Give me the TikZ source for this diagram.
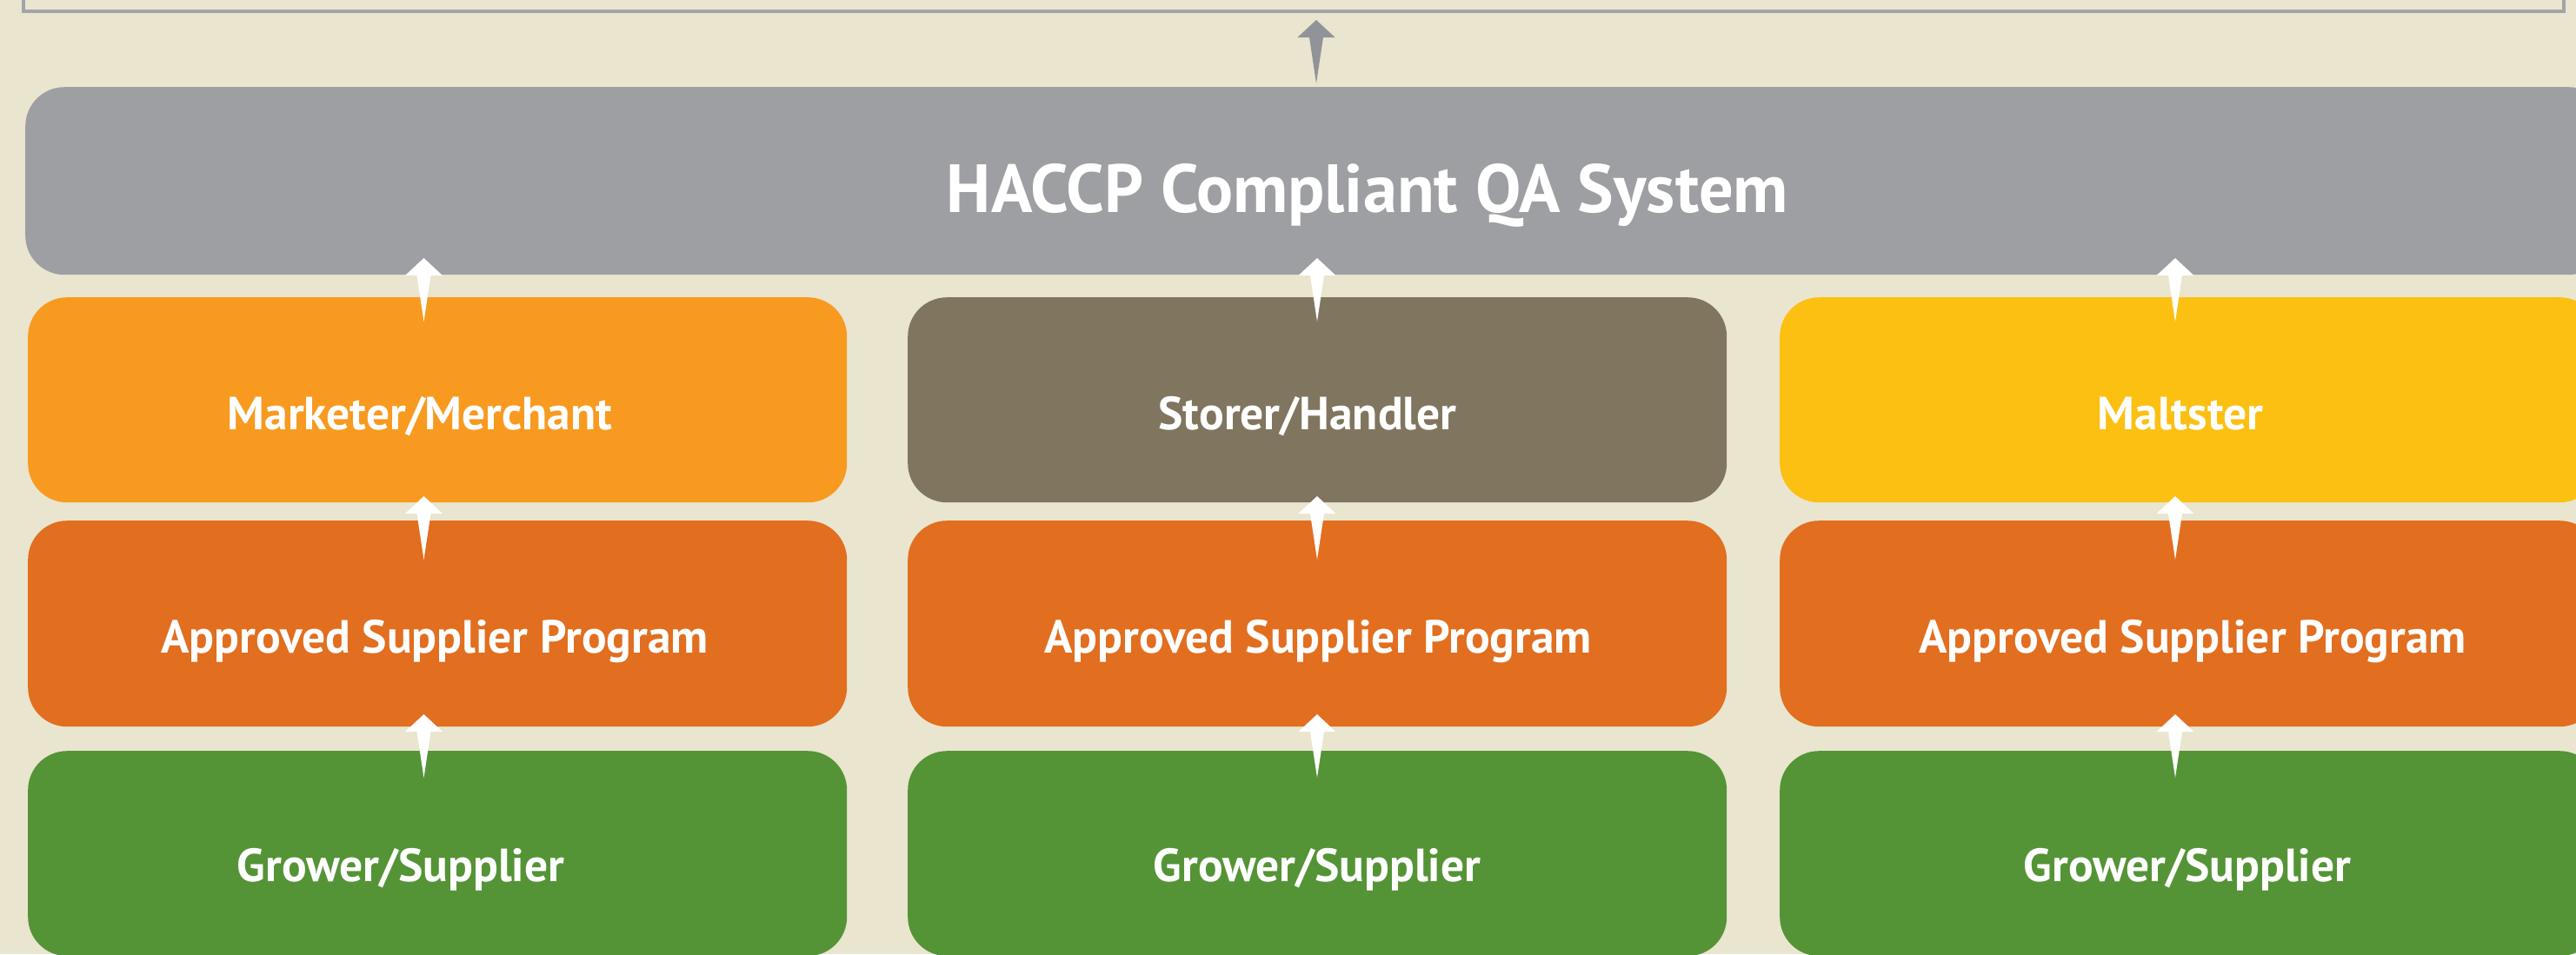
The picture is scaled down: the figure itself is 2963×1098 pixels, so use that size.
\documentclass[tikz,border=0pt]{standalone}
\usepackage{fontspec}
\setmainfont{PT Sans}
\definecolor{bgc}{HTML}{E9E5CE}
\definecolor{framec}{HTML}{A3A4A8}
\definecolor{grayc}{HTML}{9E9FA3}
\definecolor{arrgray}{HTML}{929398}
\definecolor{orangec}{HTML}{F89A20}
\definecolor{brownc}{HTML}{807660}
\definecolor{yellowc}{HTML}{FCC012}
\definecolor{darkorc}{HTML}{E26E20}
\definecolor{greenc}{HTML}{549436}
\tikzset{
  box/.style={fill=#1, rounded corners=45pt, inner sep=0pt, anchor=north west},
  lbl/.style={text=white, font=\bfseries\fontsize{53.5}{64}\selectfont, anchor=base, inner sep=0pt},
  titlelbl/.style={text=white, font=\bfseries\fontsize{78.5}{94}\selectfont, anchor=base, inner sep=0pt},
  pics/uparr/.style={code={\fill[#1] (0,0) -- (21.5,20) -- (8,20) -- (0,73) -- (-8,20) -- (-21.5,20) -- cycle;}}
}
\begin{document}
\begin{tikzpicture}[x=1pt,y=-1pt]
\useasboundingbox (0,0) rectangle (2963,1098);
\clip (0,0) rectangle (2963,1098);
\fill[bgc] (0,0) rectangle (2963,1098);
% top frame
\draw[framec, line width=3.5pt] (27,-30) rectangle (2949,13);
% HACCP box
\node[box=grayc, minimum width=2970pt, minimum height=216pt] (qa) at (29,100) {};
% row 2
\node[box=orangec, minimum width=942pt, minimum height=236pt] (mm) at (32,342) {};
\node[box=brownc, minimum width=942pt, minimum height=236pt] (sh) at (1044,342) {};
\node[box=yellowc, minimum width=942pt, minimum height=236pt] (ms) at (2047,342) {};
% row 3
\node[box=darkorc, minimum width=942pt, minimum height=237pt] (asp1) at (32,599) {};
\node[box=darkorc, minimum width=942pt, minimum height=237pt] (asp2) at (1044,599) {};
\node[box=darkorc, minimum width=942pt, minimum height=237pt] (asp3) at (2047,599) {};
% row 4
\node[box=greenc, minimum width=942pt, minimum height=236pt] (gs1) at (32,864) {};
\node[box=greenc, minimum width=942pt, minimum height=236pt] (gs2) at (1044,864) {};
\node[box=greenc, minimum width=942pt, minimum height=236pt] (gs3) at (2047,864) {};
% arrows
\pic at (1514,23) {uparr=arrgray};
\pic at (487.5,297) {uparr=white};
\pic at (1515,297) {uparr=white};
\pic at (2502,297) {uparr=white};
\pic at (487.5,571) {uparr=white};
\pic at (1515,571) {uparr=white};
\pic at (2502,571) {uparr=white};
\pic at (487.5,822) {uparr=white};
\pic at (1515,822) {uparr=white};
\pic at (2502,822) {uparr=white};
% labels
\node[titlelbl] (t0) at (1573,244) {HACCP Compliant QA System};
\node[lbl] (t1) at (483,494) {Marketer/Merchant};
\node[lbl] (t2) at (1504,494) {Storer/Handler};
\node[lbl] (t3) at (2508,494) {Maltster};
\node[lbl] (t4) at (500,751) {Approved Supplier Program};
\node[lbl] (t5) at (1516,751) {Approved Supplier Program};
\node[lbl] (t6) at (2522,751) {Approved Supplier Program};
\node[lbl] (t7) at (461,1014) {Grower/Supplier};
\node[lbl] (t8) at (1515,1014) {Grower/Supplier};
\node[lbl] (t9) at (2516,1014) {Grower/Supplier};
\end{tikzpicture}
\end{document}
